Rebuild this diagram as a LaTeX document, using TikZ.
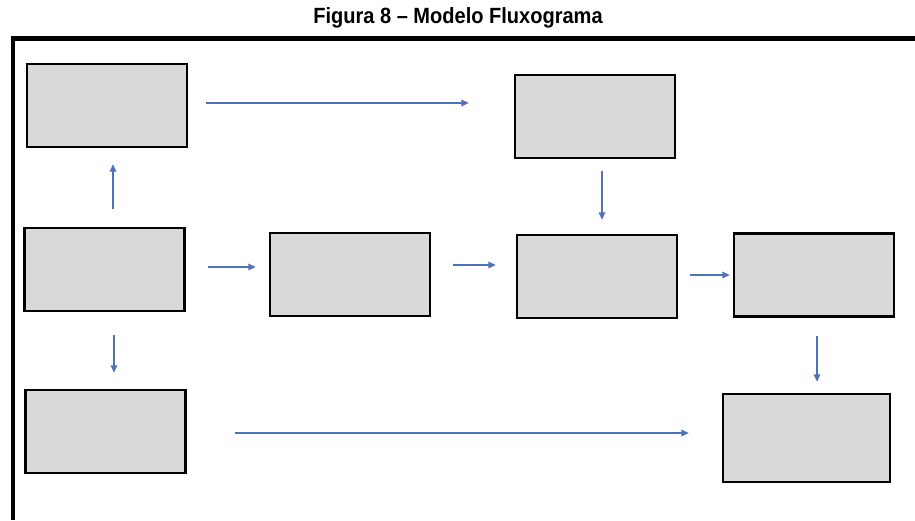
\documentclass[tikz,border=0pt]{standalone}
\usepackage{fontspec}
\usepackage{xcolor}
\usepackage{tikz}
\usetikzlibrary{arrows.meta, positioning}
\newfontfamily\titlefont{Liberation Sans}
\definecolor{boxcolor}{RGB}{217,217,217}
\definecolor{flowcolor}{RGB}{79,114,190}

\begin{document}
\begin{tikzpicture}[
    x=0.02cm, y=-0.02cm,
    block/.style={draw, line width=1.4pt, fill=boxcolor, minimum width=3.2cm, minimum height=1.66cm, inner sep=0pt},
    flow/.style={draw, flowcolor, line width=1.1pt, -{Triangle[length=0.15cm, width=0.13cm]}}
]
    \useasboundingbox (0,0) rectangle (915,520);

    % Title and frame
    \node[font=\titlefont\bfseries\fontsize{11.4}{13}\selectfont, yscale=1.1] (title) at (458,18) {Figura 8 – Modelo Fluxograma};
    \draw[line width=2.3pt] (12.7,520) -- (12.7,38.5) -- (915,38.5);

    % Nodes
    \node[block] (top1) at (107,105.5) {};
    \node[block] (top2) at (595,116.5) {};
    \node[block] (mid1) at (104.5,269.5) {};
    \node[block] (mid2) at (350,274.5) {};
    \node[block] (mid3) at (597,276.5) {};
    \node[block] (mid4) at (814,275) {};
    \node[block] (bot1) at (105.5,431.5) {};
    \node[block, minimum width=3.34cm, minimum height=1.76cm] (bot2) at (806.5,438) {};

    % Flow arrows
    \draw[flow, shorten <=0.36cm, shorten >=0.9cm] ([yshift=0.05cm]top1.east) -- ([yshift=0.05cm]top1.east -| top2.west);
    \draw[flow, shorten <=0.36cm, shorten >=0.32cm] ([xshift=0.17cm]mid1.north) -- ([xshift=0.17cm]mid1.north |- top1.south);
    \draw[flow, shorten <=0.46cm, shorten >=0.32cm] ([xshift=0.19cm]mid1.south) -- ([xshift=0.19cm]mid1.south |- bot1.north);
    \draw[flow, shorten <=0.44cm, shorten >=0.26cm] ([yshift=0.05cm]mid1.east) -- ([yshift=0.05cm]mid1.east -| mid2.west);
    \draw[flow, shorten <=0.44cm, shorten >=0.4cm] ([yshift=0.19cm]mid2.east) -- ([yshift=0.19cm]mid2.east -| mid3.west);
    \draw[flow, shorten <=0.24cm, shorten >=0.28cm] ([xshift=0.14cm]top2.south) -- ([xshift=0.14cm]top2.south |- mid3.north);
    \draw[flow, shorten <=0.24cm, shorten >=0.06cm] ([yshift=0.03cm]mid3.east) -- ([yshift=0.03cm]mid3.east -| mid4.west);
    \draw[flow, shorten <=0.36cm, shorten >=0.22cm] ([xshift=0.06cm]mid4.south) -- ([xshift=0.06cm]mid4.south |- bot2.north);
    \draw[flow, shorten <=0.96cm, shorten >=0.66cm] ([yshift=-0.03cm]bot1.east) -- ([yshift=-0.03cm]bot1.east -| bot2.west);
\end{tikzpicture}
\end{document}
